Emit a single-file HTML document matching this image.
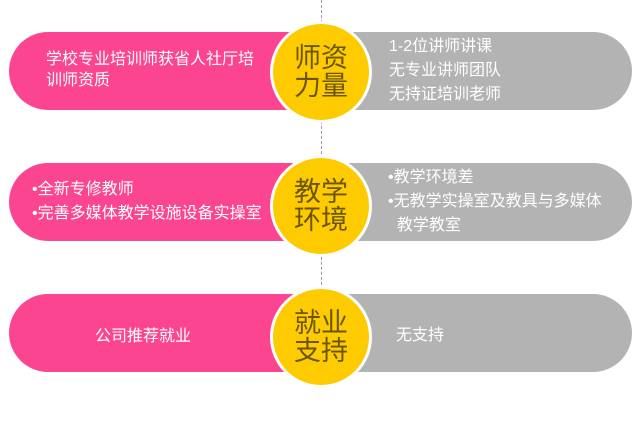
<!DOCTYPE html>
<html><head><meta charset="utf-8"><style>
body{margin:0;width:640px;height:429px;background:#fff;position:relative;overflow:hidden;font-family:"Liberation Sans","Noto Sans CJK SC",sans-serif}
.dash{position:absolute;left:321px;top:0;height:300px;border-left:1px dashed #999}
.pink{position:absolute;left:9px;width:300px;height:78px;background:#fc4590;border-radius:39px 0 0 39px;color:#fff;font-size:16px}
.gray{position:absolute;left:320px;width:312px;height:78px;background:#b3b3b3;border-radius:0 39px 39px 0;color:#fff;font-size:16px}
.c{position:absolute;left:270px;width:96px;height:96px;border-radius:50%;background:#fecb00;border:3px solid #fff;color:#6a5600;font-size:27px;line-height:28px;text-align:center;display:flex;align-items:center;justify-content:center}
.t{position:absolute;line-height:24px;white-space:nowrap}
</style></head><body>
<div class="dash"></div>
<div class="pink" style="top:32px"><div class="t" style="left:37px;top:17px;line-height:21px">学校专业培训师获省人社厅培<br>训师资质</div></div>
<div class="gray" style="top:32px"><div class="t" style="left:69px;top:3px">1-2位讲师讲课<br>无专业讲师团队<br>无持证培训老师</div></div>
<div class="c" style="top:21px">师资<br>力量</div>

<div class="pink" style="top:163px"><div class="t" style="left:23px;top:15px">•全新专修教师<br>•完善多媒体教学设施设备实操室</div></div>
<div class="gray" style="top:163px"><div class="t" style="left:68px;top:3px">•教学环境差<br>•无教学实操室及教具与多媒体<br>&nbsp;&nbsp;教学教室</div></div>
<div class="c" style="top:155px">教学<br>环境</div>

<div class="pink" style="top:294px"><div class="t" style="left:86px;top:31px">公司推荐就业</div></div>
<div class="gray" style="top:294px"><div class="t" style="left:76px;top:30px">无支持</div></div>
<div class="c" style="top:286px">就业<br>支持</div>
</body></html>
